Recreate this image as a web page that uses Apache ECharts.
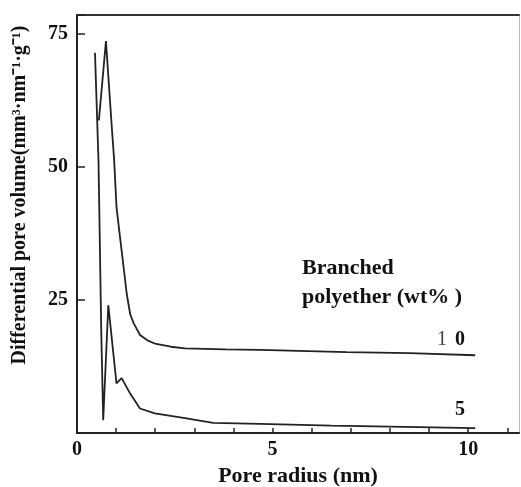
<!DOCTYPE html>
<html lang="en">
<head>
    <meta charset="UTF-8">
    <title>Pore volume</title>
    <script src="https://cdn.jsdelivr.net/npm/echarts@6/dist/echarts.min.js"></script>
</head>
<style type="text/css">
    html, body { margin: 0; padding: 0; background: #fff; }
    #main { width: 521px; height: 487px; }
</style>
<body>
<div id="main"></div>
<script type="text/javascript">
    // 10 wt% curve
    var radius10 = [0.56, 0.74, 0.89, 0.95, 1.01, 1.08, 1.14, 1.21, 1.27, 1.36, 1.45, 1.53, 1.61, 1.80, 1.99, 2.40, 2.76, 3.79, 4.68, 6.90, 8.50, 10.18];
    var volume10 = [58.7, 73.6, 57.4, 51.2, 42.4, 38.0, 34.3, 30.0, 26.2, 22.3, 20.6, 19.5, 18.4, 17.4, 16.8, 16.2, 15.9, 15.7, 15.6, 15.2, 15.0, 14.6];
    // 5 wt% curve
    var radius5 = [0.46, 0.55, 0.62, 0.67, 0.80, 1.01, 1.14, 1.36, 1.61, 1.99, 2.76, 3.48, 4.68, 6.50, 8.00, 10.18];
    var volume5 = [71.4, 51.0, 19.1, 2.4, 24.0, 9.3, 10.3, 7.4, 4.6, 3.7, 2.8, 1.9, 1.7, 1.4, 1.2, 0.9];
    var xLabels = [0, 5, 10];
    var yLabels = [25, 50, 75];

    function pairs(xs, ys) {
        var out = [];
        for (var i = 0; i < xs.length; i++) out.push([xs[i], ys[i]]);
        return out;
    }

    var serif = "'Liberation Serif', 'Times New Roman', serif";
    var myChart = echarts.init(document.getElementById('main'));

    var option = {
        animation: false,
        grid: {left: 77, top: 15, right: 2, bottom: 54, outerBoundsMode: 'none', containLabel: false},
        xAxis: [{
            type: 'value', min: 0, max: 11.3, interval: 1,
            name: 'Pore radius (nm)', nameLocation: 'middle', nameGap: 32,
            nameTextStyle: {fontFamily: serif, fontWeight: 'bold', fontSize: 22, color: '#111'},
            axisLine: {lineStyle: {color: '#222', width: 2}},
            axisTick: {inside: true, length: 5, lineStyle: {color: '#222', width: 1.5}},
            axisLabel: {
                fontFamily: serif, fontWeight: 'bold', fontSize: 20, color: '#111', margin: 7,
                showMaxLabel: false,
                formatter: function (v) { return xLabels.indexOf(v) >= 0 ? String(v) : ''; }
            },
            splitLine: {show: false}
        }, {
            type: 'value', position: 'top', min: 0, max: 11.3,
            axisLine: {onZero: false, lineStyle: {color: '#333', width: 2}},
            axisTick: {show: false}, axisLabel: {show: false}, splitLine: {show: false}
        }],
        yAxis: [{
            type: 'value', min: 0, max: 78.5, interval: 25,
            axisLine: {lineStyle: {color: '#222', width: 2}},
            axisTick: {inside: true, length: 8, lineStyle: {color: '#222', width: 1.5}},
            axisLabel: {
                fontFamily: serif, fontWeight: 'bold', fontSize: 20, color: '#111', margin: 9,
                formatter: function (v) { return yLabels.indexOf(v) >= 0 ? String(v) : ''; }
            },
            splitLine: {show: false}
        }, {
            type: 'value', position: 'right', min: 0, max: 78.5,
            axisLine: {onZero: false, lineStyle: {color: '#bbb', width: 1}},
            axisTick: {show: false}, axisLabel: {show: false}, splitLine: {show: false}
        }],
        series: [
            {type: 'line', data: pairs(radius10, volume10), showSymbol: false, symbol: 'none',
                lineStyle: {color: '#222', width: 1.8}},
            {type: 'line', data: pairs(radius5, volume5), showSymbol: false, symbol: 'none',
                lineStyle: {color: '#222', width: 1.8}}
        ],
        graphic: [
            {type: 'text', x: 20, y: 195, rotation: Math.PI / 2,
                style: {text: 'Differential pore volume(mm³·nm⁻¹·g⁻¹)', font: 'bold 20px ' + serif,
                    fill: '#111', align: 'center', verticalAlign: 'middle'}},
            {type: 'text', x: 302, y: 268,
                style: {text: 'Branched', font: 'bold 22px ' + serif, fill: '#111', verticalAlign: 'middle'}},
            {type: 'text', x: 302, y: 297,
                style: {text: 'polyether (wt% )', font: 'bold 22px ' + serif, fill: '#111', verticalAlign: 'middle'}},
            {type: 'text', x: 437, y: 340,
                style: {text: '{a|1}{b|0}', fill: '#111', verticalAlign: 'middle',
                    rich: {a: {fontFamily: serif, fontSize: 20, fontWeight: 'normal', fill: '#444', width: 18},
                           b: {fontFamily: serif, fontSize: 20, fontWeight: 'bold', fill: '#111'}}}},
            {type: 'text', x: 455, y: 410,
                style: {text: '5', font: 'bold 20px ' + serif, fill: '#111', verticalAlign: 'middle'}}
        ]
    };

    myChart.setOption(option);
</script>
</body>
</html>
